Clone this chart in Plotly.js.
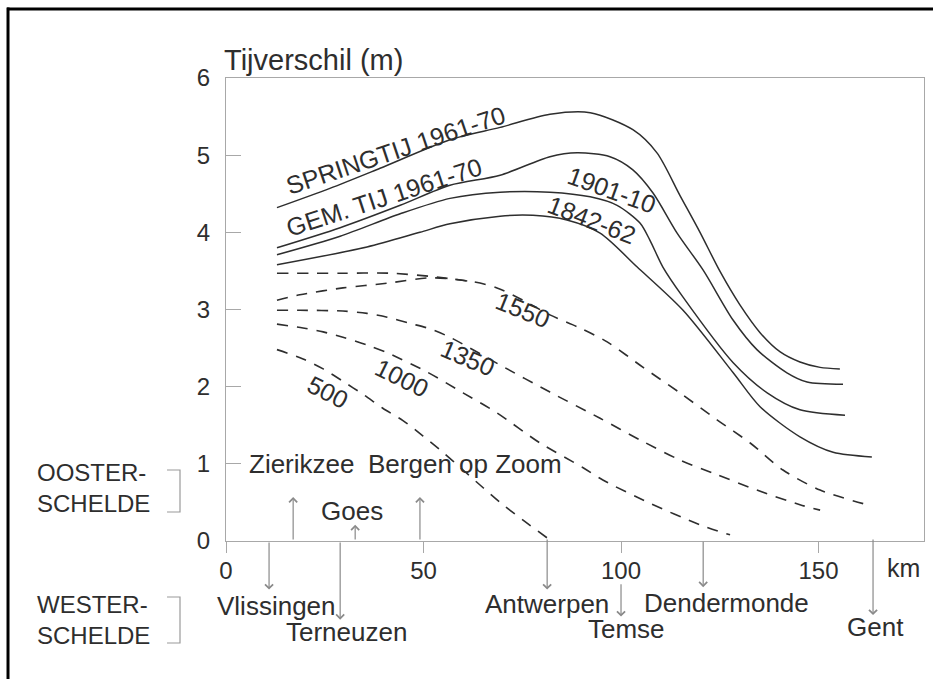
<!DOCTYPE html>
<html>
<head>
<meta charset="utf-8">
<script src="https://cdn.plot.ly/plotly-3.0.1.min.js"></script>
<style>
  html, body { margin: 0; padding: 0; background: #fff; }
  #chart { width: 933px; height: 679px; }
</style>
</head>
<body>
<div id="chart"></div>
<script>
// ---------- DATA ----------
const xTickValues = [0, 50, 100, 150];
const xTickLabels = ['0', '50', '100', '150'];
const yTickValues = [0, 1, 2, 3, 4, 5, 6];
const yTickLabels = ['0', '1', '2', '3', '4', '5', '6'];

// solid curves: tidal range (m) against distance (km)
const springKm = [12.9, 26.3, 39.0, 56.7, 69.4, 82.0, 92.2, 103.0, 109.1, 114.9, 120.0, 125.1, 130.1, 135.2, 140.3, 145.3, 150.4, 155.4];
const springM  = [4.32, 4.57, 4.83, 5.20, 5.36, 5.53, 5.55, 5.33, 5.03, 4.48, 4.00, 3.49, 3.06, 2.70, 2.45, 2.32, 2.25, 2.23];

const gemKm = [12.9, 28.9, 44.1, 56.7, 69.4, 82.0, 88.9, 97.2, 103.0, 108.1, 114.2, 120.8, 128.4, 134.4, 142.0, 147.1, 156.2];
const gemM  = [3.80, 4.06, 4.35, 4.61, 4.74, 4.98, 5.03, 4.98, 4.81, 4.51, 3.99, 3.51, 2.86, 2.48, 2.18, 2.06, 2.03];

const y1901Km = [12.9, 28.9, 44.1, 56.7, 69.4, 82.0, 92.2, 99.0, 104.8, 107.3, 110.6, 115.7, 128.4, 137.0, 145.3, 156.7];
const y1901M  = [3.71, 3.95, 4.24, 4.44, 4.52, 4.52, 4.46, 4.35, 4.12, 3.90, 3.55, 3.16, 2.31, 1.92, 1.70, 1.63];

const y1842Km = [12.9, 35.7, 49.1, 56.7, 69.4, 77.7, 86.3, 94.7, 104.1, 115.7, 128.4, 135.2, 145.3, 153.7, 163.5];
const y1842M  = [3.58, 3.81, 4.00, 4.11, 4.21, 4.22, 4.16, 3.99, 3.55, 2.99, 2.18, 1.74, 1.35, 1.15, 1.09];

// dashed curves (reconstructed historic situations)
const topDashKm = [12.9, 28.9, 41.5, 51.6, 62.5];
const topDashM  = [3.47, 3.47, 3.47, 3.43, 3.36];

const y1550Km = [12.9, 18.7, 29.6, 40.8, 51.6, 62.5, 68.6, 75.2, 82.0, 89.6, 96.5, 105.6, 114.9, 124.3, 132.7, 141.0, 150.4, 162.3];
const y1550M  = [3.12, 3.19, 3.28, 3.34, 3.41, 3.36, 3.28, 3.12, 2.93, 2.76, 2.58, 2.25, 1.92, 1.57, 1.27, 0.92, 0.66, 0.47];

const y1350Km = [12.9, 18.7, 29.6, 35.7, 40.8, 46.6, 51.6, 56.7, 69.4, 82.0, 94.7, 104.8, 114.9, 124.3, 134.4, 145.3, 150.4];
const y1350M  = [2.99, 2.99, 2.98, 2.95, 2.90, 2.82, 2.75, 2.64, 2.28, 1.93, 1.59, 1.31, 1.05, 0.86, 0.66, 0.47, 0.40];

const y1000Km = [12.9, 19.5, 24.6, 29.6, 35.7, 40.8, 50.9, 60.0, 68.6, 79.5, 90.4, 95.4, 107.3, 120.0, 127.6];
const y1000M  = [2.81, 2.76, 2.71, 2.64, 2.54, 2.44, 2.19, 1.92, 1.66, 1.27, 0.95, 0.79, 0.49, 0.21, 0.08];

const y500Km = [12.9, 19.5, 24.6, 29.6, 34.7, 39.7, 44.8, 49.9, 54.9, 60.0, 65.1, 70.1, 75.2, 81.3];
const y500M  = [2.48, 2.36, 2.23, 2.07, 1.90, 1.72, 1.56, 1.36, 1.15, 0.92, 0.69, 0.47, 0.27, 0.04];

// places along the estuaries (km)
const placeNames = ['Vlissingen', 'Zierikzee', 'Terneuzen', 'Goes', 'Bergen op Zoom', 'Antwerpen', 'Temse', 'Dendermonde', 'Gent'];
const placeKm    = [10.9, 17.0, 28.9, 32.7, 49.1, 81.3, 100.0, 120.8, 163.8];

// ---------- LAYOUT / STYLE ----------
const FONT = 'Liberation Sans, Arial, Helvetica, sans-serif';
const INK = '#2e2e2e';
const AXIS = '#a8a8a8';
const ARROW = '#8a8a8a';
const Y_MAX = 6;
// y position expressed on the y-axis scale (m) -> plot fraction (works below the axis too)
const frac = v => v / Y_MAX;

// arrow tail/head (in m on the y-axis scale) and label position for each place
const placeStyle = [
  {from: 0.00, to: -0.63, lx: 12.9,  ly: -0.84},
  {from: 0.00, to: 0.57,  lx: 19.2,  ly: 1.00},
  {from: 0.00, to: -1.02, lx: 30.6,  ly: -1.18},
  {from: 0.00, to: 0.21,  lx: 31.9,  ly: 0.39},
  {from: 0.00, to: 0.57,  lx: 60.5,  ly: 1.00},
  {from: 0.04, to: -0.63, lx: 81.3,  ly: -0.82},
  {from: -0.54, to: -0.98, lx: 101.3, ly: -1.14},
  {from: 0.01, to: -0.60, lx: 126.8, ly: -0.80},
  {from: 0.04, to: -0.96, lx: 164.3, ly: -1.11}
];

function solid(name, x, y) {
  return {type: 'scatter', mode: 'lines', name: name, x: x, y: y,
    line: {color: INK, width: 1.5, shape: 'spline', smoothing: 0.8}, hoverinfo: 'skip'};
}
function dashed(name, x, y) {
  return {type: 'scatter', mode: 'lines', name: name, x: x, y: y,
    line: {color: INK, width: 1.6, dash: '11px,9px', shape: 'spline', smoothing: 0.8}, hoverinfo: 'skip'};
}

const traces = [
  solid('SPRINGTIJ 1961-70', springKm, springM),
  solid('GEM. TIJ 1961-70', gemKm, gemM),
  solid('1901-10', y1901Km, y1901M),
  solid('1842-62', y1842Km, y1842M),
  dashed('(top dashed)', topDashKm, topDashM),
  dashed('1550', y1550Km, y1550M),
  dashed('1350', y1350Km, y1350M),
  dashed('1000', y1000Km, y1000M),
  dashed('500', y500Km, y500M)
];

const annotations = [];

// curve labels
const curveLabels = [
  {text: 'SPRINGTIJ 1961-70', x: 43.0, y: 5.07, a: -18.5},
  {text: 'GEM. TIJ 1961-70',  x: 40.0, y: 4.46, a: -18},
  {text: '1901-10',           x: 97.7, y: 4.55, a: 20},
  {text: '1842-62',           x: 92.7, y: 4.16, a: 21},
  {text: '1550',              x: 75.2, y: 2.99, a: 22},
  {text: '1350',              x: 61.3, y: 2.37, a: 23},
  {text: '1000',              x: 44.6, y: 2.11, a: 26},
  {text: '500',               x: 25.8, y: 1.93, a: 27}
];
curveLabels.forEach(c => annotations.push({
  text: c.text, x: c.x, y: c.y, xref: 'x', yref: 'y', showarrow: false,
  xanchor: 'center', yanchor: 'middle',
  textangle: c.a, font: {family: FONT, size: 25, color: INK}
}));

// place arrows and names
placeNames.forEach((n, i) => {
  const s = placeStyle[i];
  annotations.push({
    text: '', x: placeKm[i], y: frac(s.to), ax: placeKm[i], ay: frac(s.from),
    xref: 'x', yref: 'paper', axref: 'x', ayref: 'paper',
    showarrow: true, arrowhead: 4, arrowsize: 1.3, arrowwidth: 1.2, arrowcolor: ARROW, standoff: 0
  });
  annotations.push({
    text: n, x: s.lx, y: frac(s.ly), xref: 'x', yref: 'paper', showarrow: false,
    xanchor: 'center', yanchor: 'middle',
    font: {family: FONT, size: 26, color: INK}
  });
});

// estuary names on the left
[
  {t: 'OOSTER-<br>SCHELDE', y: 0.69},
  {t: 'WESTER-<br>SCHELDE', y: -1.02}
].forEach(o => annotations.push({
  text: o.t, x: -0.2736, y: frac(o.y), xref: 'paper', yref: 'paper',
  xanchor: 'left', yanchor: 'middle', align: 'left',
  showarrow: false, font: {family: FONT, size: 24, color: INK}
}));

// km unit
annotations.push({text: 'km', x: 171.6, y: frac(-0.35), xref: 'x', yref: 'paper', showarrow: false,
  xanchor: 'center', yanchor: 'middle', font: {family: FONT, size: 25, color: INK}});

const shapes = [
  // brackets next to the estuary names
  {type: 'path', xref: 'paper', yref: 'paper',
   path: 'M -0.0845,0.1533 L -0.0659,0.1533 L -0.0659,0.0626 L -0.0845,0.0626',
   line: {color: '#9a9a9a', width: 1.2}},
  {type: 'path', xref: 'paper', yref: 'paper',
   path: 'M -0.0845,-0.121 L -0.0659,-0.121 L -0.0659,-0.2203 L -0.0845,-0.2203',
   line: {color: '#9a9a9a', width: 1.2}},
  // scan border (top and left)
  {type: 'line', xref: 'paper', yref: 'paper', x0: -0.3138, x1: 1.05, y0: 1.149, y1: 1.149,
   line: {color: '#000', width: 3}},
  {type: 'line', xref: 'paper', yref: 'paper', x0: -0.3123, x1: -0.3123, y0: 1.152, y1: -0.35,
   line: {color: '#000', width: 3}}
];

const layout = {
  width: 933, height: 679,
  margin: {l: 226, r: 9, t: 78, b: 138, pad: 0},
  paper_bgcolor: '#ffffff', plot_bgcolor: '#ffffff',
  showlegend: false,
  font: {family: FONT, color: INK},
  title: {text: 'Tijverschil (m)', x: 224 / 933, xanchor: 'left', y: 1 - 60 / 679, yanchor: 'middle',
          font: {family: FONT, size: 29, color: INK}},
  xaxis: {
    range: [0, 176.7], tickmode: 'array', tickvals: xTickValues, ticktext: xTickLabels,
    ticks: 'outside', ticklen: 11, tickcolor: AXIS, tickwidth: 1,
    showline: true, mirror: true, linecolor: AXIS, linewidth: 1,
    showgrid: false, zeroline: false, ticklabelstandoff: -3,
    tickfont: {family: FONT, size: 24, color: INK}, fixedrange: true
  },
  yaxis: {
    range: [0, Y_MAX], tickmode: 'array', tickvals: yTickValues, ticktext: yTickLabels,
    ticks: 'inside', ticklen: 15, tickcolor: AXIS, tickwidth: 1,
    showline: true, mirror: true, linecolor: AXIS, linewidth: 1,
    showgrid: false, zeroline: false, ticklabelstandoff: 10,
    tickfont: {family: FONT, size: 24, color: INK}, fixedrange: true
  },
  annotations: annotations,
  shapes: shapes
};

Plotly.newPlot('chart', traces, layout, {displayModeBar: false, staticPlot: true});
</script>
</body>
</html>
